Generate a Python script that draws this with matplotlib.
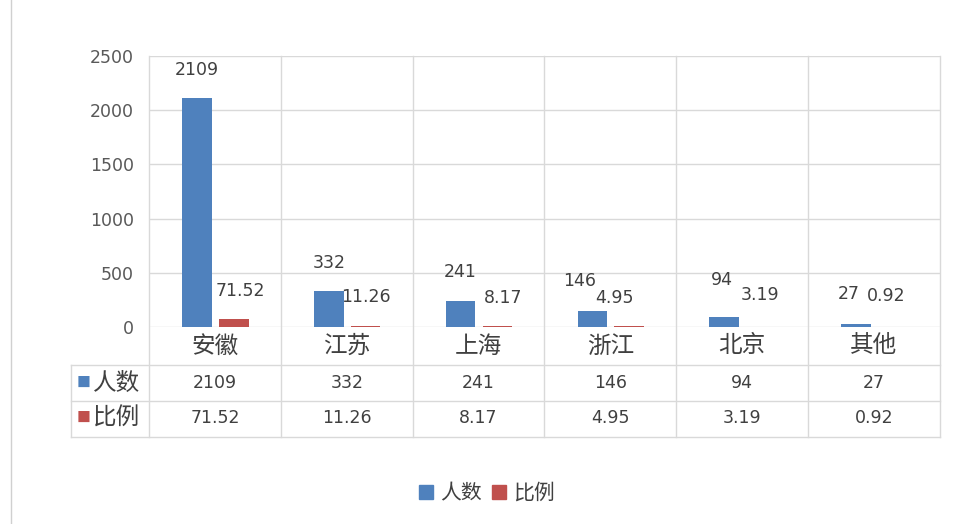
import numpy as np
import matplotlib
matplotlib.use("Agg")
import matplotlib.pyplot as plt
from matplotlib.transforms import blended_transform_factory
from matplotlib.lines import Line2D

plt.rcParams['font.family'] = ['Noto Sans CJK SC', 'DejaVu Sans']

categories = ['安徽', '江苏', '上海', '浙江', '北京', '其他']
people = [2109, 332, 241, 146, 94, 27]
ratio = [71.52, 11.26, 8.17, 4.95, 3.19, 0.92]
people_labels = ['2109', '332', '241', '146', '94', '27']
ratio_labels = ['71.52', '11.26', '8.17', '4.95', '3.19', '0.92']
series_names = ['人数', '比例']

BLUE = '#4F81BD'
RED = '#C0504D'
GRID = '#D9D9D9'
TXT = '#404040'
NUM = 'DejaVu Sans'  # wide digits, closer to the original

W, H = 959, 524
fig = plt.figure(figsize=(W / 100, H / 100), dpi=100)


def fy(py):
    return 1 - py / H


def fx(px):
    return px / W


ax = fig.add_axes([fx(149), fy(327), fx(940) - fx(149), fy(56) - fy(327)])
x = np.arange(len(categories))
bw = 0.225
ax.bar(x - 0.137, people, bw, color=BLUE, zorder=3)
ax.bar(x + 0.143, ratio, bw, color=RED, zorder=3)

ax.set_xlim(-0.5, len(categories) - 0.5)
ax.set_ylim(0, 2500)
ax.set_yticks(np.arange(0, 2501, 500))
ax.set_xticks([])
ax.tick_params(axis='y', length=0, pad=11, labelsize=12.5, labelcolor='#595959')
for lb in ax.get_yticklabels():
    lb.set_family(NUM)
for s in ax.spines.values():
    s.set_visible(False)
ax.yaxis.grid(True, color=GRID, lw=1, zorder=0)

# data labels, nudged a bit like the original
blue_nudge = [(0, 0), (0, 0), (0, 0), (-9, 1), (-2, 6), (-5, 1)]
red_nudge = [(5, 0), (0, 0), (4, 0), (-11, 0), (-1, 2), (-5, 2)]
for i in range(len(categories)):
    dx, dy = blue_nudge[i]
    ax.annotate(people_labels[i], (x[i] - 0.137, people[i]), xytext=(dx, 14 + dy),
                textcoords='offset points', ha='center', va='bottom',
                fontsize=12.5, family=NUM, color=TXT, annotation_clip=False)
    dx, dy = red_nudge[i]
    ax.annotate(ratio_labels[i], (x[i] + 0.143, ratio[i]), xytext=(dx, 14 + dy),
                textcoords='offset points', ha='center', va='bottom',
                fontsize=12.5, family=NUM, color=TXT, annotation_clip=False)

# data table under the axis
tr = blended_transform_factory(ax.transData, fig.transFigure)
for b in np.arange(-0.5, len(categories), 1.0):
    ax.add_line(Line2D([b, b], [fy(56), fy(437)], transform=tr, color=GRID,
                       lw=1, clip_on=False, zorder=1))
for py in [365, 401, 437]:
    fig.add_artist(Line2D([fx(71), fx(940)], [fy(py), fy(py)], color=GRID, lw=1))
fig.add_artist(Line2D([fx(71), fx(71)], [fy(365), fy(437)], color=GRID, lw=1))

for i, c in enumerate(categories):
    ax.text(x[i], fy(346), c, transform=tr, ha='center', va='center',
            fontsize=17, color=TXT)
    ax.text(x[i], fy(383), people_labels[i], transform=tr, ha='center',
            va='center', fontsize=12.5, family=NUM, color=TXT)
    ax.text(x[i], fy(418), ratio_labels[i], transform=tr, ha='center',
            va='center', fontsize=12.5, family=NUM, color=TXT)

for py, name, col in [(383, series_names[0], BLUE), (418, series_names[1], RED)]:
    fig.text(fx(77), fy(py), '■', color=col, fontsize=10, ha='left', va='center')
    fig.text(fx(93), fy(py), name, color=TXT, fontsize=17, ha='left', va='center')

# legend at the bottom
handles = [Line2D([], [], marker='s', ls='', color=BLUE, markersize=10),
           Line2D([], [], marker='s', ls='', color=RED, markersize=10)]
fig.legend(handles, series_names, loc='center', bbox_to_anchor=(fx(486), fy(493)),
           ncol=2, frameon=False, fontsize=15, handlelength=0.8,
           handletextpad=0.3, columnspacing=0.4, labelcolor=TXT)

# left border of the screenshot
fig.add_artist(Line2D([fx(11), fx(11)], [0, 1], color='#D0D0D0', lw=1))

fig.savefig('out.png', dpi=100, facecolor='white')
